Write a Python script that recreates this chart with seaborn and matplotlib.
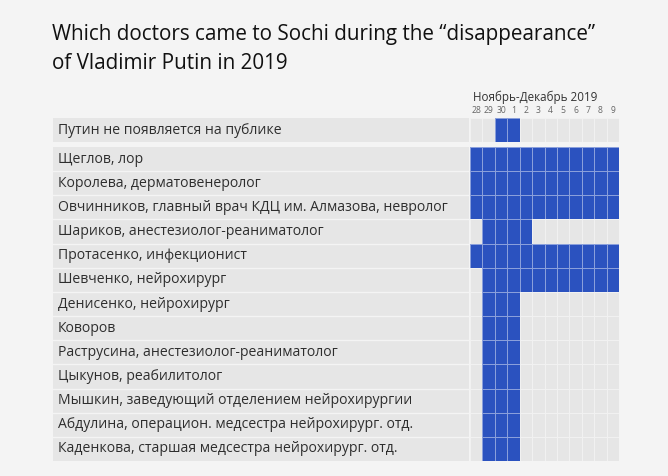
import numpy as np
import pandas as pd
import seaborn as sns
import matplotlib.pyplot as plt
from matplotlib.colors import ListedColormap

# data
days = ["28", "29", "30", "1", "2", "3", "4", "5", "6", "7", "8", "9"]

putin_label = "Путин не появляется на публике"
putin_absent = [0, 0, 1, 1, 0, 0, 0, 0, 0, 0, 0, 0]

doctors = [
    "Щеглов, лор",
    "Королева, дерматовенеролог",
    "Овчинников, главный врач КДЦ им. Алмазова, невролог",
    "Шариков, анестезиолог-реаниматолог",
    "Протасенко, инфекционист",
    "Шевченко, нейрохирург",
    "Денисенко, нейрохирург",
    "Коворов",
    "Раструсина, анестезиолог-реаниматолог",
    "Цыкунов, реабилитолог",
    "Мышкин, заведующий отделением нейрохирургии",
    "Абдулина, операцион. медсестра нейрохирург. отд.",
    "Каденкова, старшая медсестра нейрохирург. отд.",
]
in_sochi = [
    [1, 1, 1, 1, 1, 1, 1, 1, 1, 1, 1, 1],
    [1, 1, 1, 1, 1, 1, 1, 1, 1, 1, 1, 1],
    [1, 1, 1, 1, 1, 1, 1, 1, 1, 1, 1, 1],
    [0, 1, 1, 1, 1, 0, 0, 0, 0, 0, 0, 0],
    [1, 1, 1, 1, 1, 1, 1, 1, 1, 1, 1, 1],
    [0, 1, 1, 1, 1, 1, 1, 1, 1, 1, 1, 1],
    [0, 1, 1, 1, 0, 0, 0, 0, 0, 0, 0, 0],
    [0, 1, 1, 1, 0, 0, 0, 0, 0, 0, 0, 0],
    [0, 1, 1, 1, 0, 0, 0, 0, 0, 0, 0, 0],
    [0, 1, 1, 1, 0, 0, 0, 0, 0, 0, 0, 0],
    [0, 1, 1, 1, 0, 0, 0, 0, 0, 0, 0, 0],
    [0, 1, 1, 1, 0, 0, 0, 0, 0, 0, 0, 0],
    [0, 1, 1, 1, 0, 0, 0, 0, 0, 0, 0, 0],
]

BG = "#f4f4f4"
GREY = "#e6e6e6"
BLUE = "#2b52bf"
cmap = ListedColormap([GREY, BLUE])
GRID = (1, 1, 1, 0.45)

W, H = 668, 476
plt.rcParams["font.family"] = ["Open Sans", "DejaVu Sans"]
fig = plt.figure(figsize=(W / 100, H / 100), dpi=100, facecolor=BG)


def box(x0, y0, x1, y1):
    # pixel box -> figure fraction
    return [x0 / W, 1 - y1 / H, (x1 - x0) / W, (y1 - y0) / H]


def label_band(ax, labels):
    n = len(labels)
    ax.set_facecolor(GREY)
    ax.set_xlim(0, 1)
    ax.set_ylim(n, 0)
    for i in range(1, n):
        ax.axhline(i, color=BG, lw=1.0)
    for i, lab in enumerate(labels):
        ax.text(0.012, i + 0.5, lab, va="center", ha="left",
                fontsize=10.1, color="#2e2e2e")
    ax.set_xticks([])
    ax.set_yticks([])
    for s in ax.spines.values():
        s.set_visible(False)


# Putin row
ax_pl = fig.add_axes(box(53, 118, 469, 142))
label_band(ax_pl, [putin_label])
ax_p = fig.add_axes(box(470, 118, 619, 142))
sns.heatmap(pd.DataFrame([putin_absent], columns=days), ax=ax_p, cmap=cmap,
            vmin=0, vmax=1, cbar=False, linewidths=0.5,
            linecolor=GRID, xticklabels=days, yticklabels=False)
ax_p.xaxis.tick_top()
ax_p.tick_params(axis="x", length=0, pad=2.5, labelsize=6.2,
                 labelcolor="#666666", labelrotation=0)
fig.text(473 / W, 1 - 97 / H, "Ноябрь-Декабрь 2019", fontsize=8.4,
         color="#333333", ha="left", va="center")

# doctors block
ax_dl = fig.add_axes(box(53, 147, 469, 461))
label_band(ax_dl, doctors)
ax_d = fig.add_axes(box(470, 147, 619, 461))
sns.heatmap(pd.DataFrame(in_sochi, columns=days, index=doctors), ax=ax_d,
            cmap=cmap, vmin=0, vmax=1, cbar=False, linewidths=0.5,
            linecolor=GRID, xticklabels=False, yticklabels=False)
ax_d.set_xlabel("")
ax_d.set_ylabel("")

fig.text(52 / W, 1 - 24 / H,
         "Which doctors came to Sochi during the \u201cdisappearance\u201d\nof Vladimir Putin in 2019",
         fontsize=14.9, color="#111111", ha="left", va="top",
         linespacing=1.5)

fig.savefig("out.png", dpi=100, facecolor=BG)
